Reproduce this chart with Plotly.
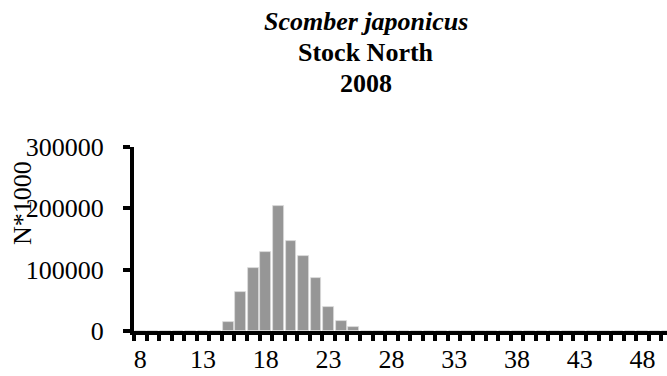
import plotly.graph_objects as go

# Length classes (cm) and abundance (N*1000)
length_classes = list(range(8, 51))
abundance_values = {
    15: 14000, 16: 63000, 17: 102000, 18: 129000, 19: 203000,
    20: 147000, 21: 123000, 22: 87000, 23: 39500, 24: 16700, 25: 6500,
}
abundance = [abundance_values.get(c, 0) for c in length_classes]

x_tick_vals = [8, 13, 18, 23, 28, 33, 38, 43, 48]
x_tick_text = [str(v) for v in x_tick_vals]
y_tick_vals = [0, 100000, 200000, 300000]
y_tick_text = [str(v) for v in y_tick_vals]

title_lines = ["<b><i>Scomber japonicus</i></b>", "<b>Stock North</b>", "<b>2008</b>"]
y_title = "N*1000"

W, H = 667, 376
L, R, T, B = 134, 0, 147, 45
pw = W - L - R
ph = H - T - B

def px_to_paper_x(px):
    return (px - L) / pw

def px_to_paper_y(py):
    return (H - B - py) / ph

FONT = "Times New Roman, Liberation Serif, DejaVu Serif, serif"

fig = go.Figure()
fig.add_trace(go.Bar(
    x=length_classes, y=abundance,
    marker=dict(color="#969696", line=dict(color="#dcdcdc", width=0.8)),
    width=0.86,
))

annotations = []
for i, line in enumerate(title_lines):
    annotations.append(dict(
        text=line, xref="paper", yref="paper",
        x=px_to_paper_x(366), y=px_to_paper_y(21 + 31 * i),
        xanchor="center", yanchor="middle", showarrow=False,
        font=dict(family=FONT, size=26, color="black"),
    ))
annotations.append(dict(
    text=y_title, xref="paper", yref="paper",
    x=px_to_paper_x(22), y=px_to_paper_y(203),
    xanchor="center", yanchor="middle", showarrow=False, textangle=-90,
    font=dict(family=FONT, size=26, color="black"),
))

fig.update_layout(
    width=W, height=H,
    margin=dict(l=L, r=R, t=T, b=B, pad=0),
    paper_bgcolor="white", plot_bgcolor="white",
    showlegend=False,
    bargap=0,
    annotations=annotations,
    font=dict(family=FONT, size=26, color="black"),
)
fig.update_xaxes(
    range=[7.5, 49.95],
    tickmode="array", tickvals=x_tick_vals, ticktext=x_tick_text,
    ticks="", ticklabelstandoff=2,
    showline=True, linecolor="black", linewidth=4,
    showgrid=False, zeroline=False,
    minor=dict(tickmode="linear", tick0=7.5, dtick=1, ticks="outside",
               ticklen=6, tickwidth=4, tickcolor="black", showgrid=False),
    tickfont=dict(family=FONT, size=26, color="black"),
)
fig.update_yaxes(
    range=[0, 300000],
    tickmode="array", tickvals=y_tick_vals, ticktext=y_tick_text,
    ticks="outside", ticklen=7, tickwidth=4, tickcolor="black",
    ticklabelstandoff=14,
    showline=True, linecolor="black", linewidth=4,
    showgrid=False, zeroline=False,
    tickfont=dict(family=FONT, size=26, color="black"),
)

fig.write_html("out.html", config={"displayModeBar": False},
               post_script="document.body.style.margin='0';")
